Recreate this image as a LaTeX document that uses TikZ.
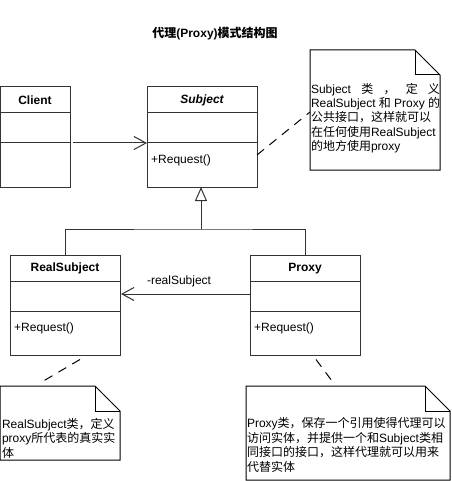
\documentclass[tikz,border=0pt]{standalone}
\usepackage{fontspec}
\setmainfont{Liberation Sans}
\newfontfamily\cjk{Noto Sans CJK SC}
\usetikzlibrary{arrows.meta,positioning,calc}

% dog-ear frame of a note node
\newcommand{\notefold}[1]{%
  \draw[notefr] (#1.north west) -- ([xshift=-25pt]#1.north east) -- ([yshift=-25pt]#1.north east)
    -- (#1.south east) -- (#1.south west) -- cycle;
  \draw[notefr] ([xshift=-25pt]#1.north east) |- ([yshift=-25pt]#1.north east);
}

\begin{document}
\begin{tikzpicture}[x=1pt, y=-1pt, font=\fontsize{12pt}{14.4pt}\selectfont]
    \tikzstyle{classhead} = [rectangle, draw=black!80, line width=1pt, outer sep=0pt, inner sep=0pt, minimum width=110pt, minimum height=26pt, font=\fontsize{12pt}{14.4pt}\selectfont\bfseries]
    \tikzstyle{attrbox} = [rectangle, draw=black!80, line width=1pt, outer sep=0pt, minimum width=110pt, minimum height=30pt]
    \tikzstyle{methbox} = [rectangle, draw=black!80, line width=1pt, outer sep=0pt, minimum width=110pt, minimum height=44pt]
    \tikzstyle{methtext} = [anchor=west, inner xsep=4pt, inner ysep=0pt]
    \tikzstyle{notebox} = [rectangle, outer sep=0pt, inner sep=0pt]
    \tikzstyle{notetext} = [inner sep=0pt, align=left]
    \tikzstyle{notefr} = [draw=black, line width=1pt, line join=miter]
    \tikzstyle{assoc} = [draw=black!80, line width=1pt, -{Straight Barb[length=12pt, width=13pt]}]
    \tikzstyle{inherit} = [draw=black!80, line width=1pt, -{Triangle[open, length=14pt, width=12pt]}]
    \tikzstyle{noteline} = [draw=black, line width=1pt, dash pattern=on 9pt off 7pt]

    \useasboundingbox (0,0) rectangle (451,481);

    % Title
    \node[font=\fontsize{12pt}{14.4pt}\selectfont\bfseries] (title) at (215,34) {{\cjk 代理}(Proxy){\cjk 模式结构图}};

    % Classes
    \node[classhead, minimum width=70pt] (client) at (35,100) {Client};
    \node[attrbox, minimum width=70pt, below=0pt of client] (clientattr) {};
    \node[methbox, minimum width=70pt, below=0pt of clientattr] (clientmeth) {};

    \node[classhead] (subject) at (202,100) {\itshape Subject};
    \node[attrbox, below=0pt of subject] (subjattr) {};
    \node[methbox, below=0pt of subjattr] (subjmeth) {};
    \node[methtext] (subjreq) at ([yshift=-17pt]subjmeth.north west) {+Request()};

    \node[classhead] (real) at (65,268.5) {RealSubject};
    \node[attrbox, below=0pt of real] (realattr) {};
    \node[methbox, below=0pt of realattr] (realmeth) {};
    \node[methtext] (realreq) at ([yshift=-17pt]realmeth.north west) {+Request()};

    \node[classhead] (proxy) at (305,268.5) {Proxy};
    \node[attrbox, below=0pt of proxy] (proxyattr) {};
    \node[methbox, below=0pt of proxyattr] (proxymeth) {};
    \node[methtext] (proxyreq) at ([yshift=-17pt]proxymeth.north west) {+Request()};

    % Notes
    \node[notebox, minimum width=130pt, minimum height=120pt] (subjnote) at (375,110) {};
    \notefold{subjnote}
    \node[notetext, text width=129pt] (subjnotetext) at (375.5,118) {%
        Subject\hfill{\cjk 类}\hfill{\cjk ，}\hfill{\cjk 定}\hfill{\cjk 义}\\
        RealSubject\hfill{\cjk 和}\hfill Proxy\hfill{\cjk 的}\\
        {\cjk 公共接口，这样就可以}\\
        {\cjk 在任何使用}RealSubject\\
        {\cjk 的地方使用}proxy};

    \node[notebox, minimum width=120pt, minimum height=74pt] (realnote) at (60,423) {};
    \notefold{realnote}
    \node[notetext, text width=118pt] (realnotetext) at (61,438) {%
        RealSubject{\cjk 类，定义}\\
        proxy{\cjk 所代表的真实实}\\
        {\cjk 体}};

    \node[notebox, minimum width=204pt, minimum height=94pt] (proxynote) at (348,433) {};
    \notefold{proxynote}
    \node[notetext, text width=203pt] (proxynotetext) at (348.5,445) {%
        Proxy{\cjk 类，保存一个引用使得代理可以}\\
        {\cjk 访问实体，并提供一个和}Subject{\cjk 类相}\\
        {\cjk 同接口的接口，这样代理就可以用来}\\
        {\cjk 代替实体}};

    % Relations
    \draw[assoc] ([xshift=3pt]clientmeth.north east) -- (subjmeth.north west);
    \draw[assoc] ([yshift=2.5pt]proxyattr.west) -- node[above=3pt, pos=0.55] (rolelabel) {-realSubject} ([yshift=2.5pt, xshift=1pt]realattr.east);

    \coordinate (branch) at (201,229);
    \draw[draw=black!80, line width=1pt] (real.north) |- (branch) -| (proxy.north);
    \draw[inherit] (branch) -- (branch |- subjmeth.south);

    % Note links
    \draw[noteline] ([yshift=-12pt]subjmeth.north east) -- ([yshift=-2pt]subjnote.west);
    \draw[noteline] ([xshift=15pt, yshift=-4pt]realmeth.south) -- ([xshift=-20pt, yshift=3pt]realnote.north);
    \draw[noteline] ([xshift=11pt, yshift=-4pt]proxymeth.south) -- ([xshift=-13pt, yshift=1pt]proxynote.north);
\end{tikzpicture}
\end{document}
